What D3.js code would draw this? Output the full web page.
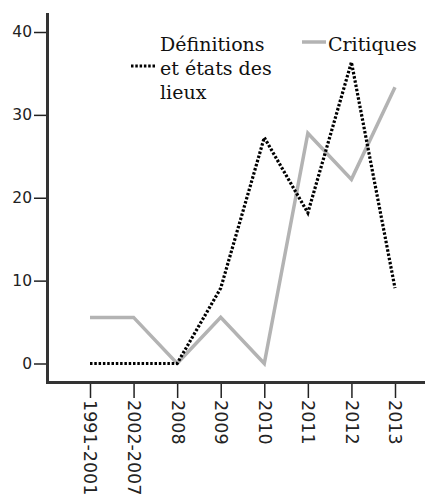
<!DOCTYPE html>
<html><head><meta charset="utf-8">
<script src="https://cdn.jsdelivr.net/npm/d3@7"></script>
<style>body{margin:0;background:#fff}</style>
</head><body>
<svg id="c" width="425" height="499"></svg>
<script>
const categories = ["1991-2001","2002-2007","2008","2009","2010","2011","2012","2013"];
const definitions = [0,0,0,9.09,27.27,18.18,36.36,9.09];
const critiques = [5.56,5.56,0,5.56,0,27.78,22.22,33.33];
const yTicks = [0,10,20,30,40];

const svg = d3.select("#c");
const x = d3.scalePoint().domain(categories).range([90,395]);
const y = d3.scaleLinear().domain([0,40]).range([363.5,32]);

// axes
const yAxis = svg.append("g").attr("transform","translate(47,0)")
  .call(d3.axisLeft(y).tickValues(yTicks).tickSize(13).tickSizeOuter(0).tickPadding(2));
yAxis.select(".domain").remove();
yAxis.selectAll(".tick line").attr("stroke","#222").attr("stroke-width",1.5);
yAxis.selectAll(".tick text").attr("font-family","DejaVu Sans, sans-serif").attr("font-size",15.5).attr("fill","#222");
svg.append("line").attr("x1",47.5).attr("x2",47.5).attr("y1",13).attr("y2",384)
  .attr("stroke","#333").attr("stroke-width",3);

const xAxis = svg.append("g").attr("transform","translate(0,382)")
  .call(d3.axisBottom(x).tickSize(16).tickSizeOuter(0));
xAxis.select(".domain").remove();
xAxis.selectAll(".tick line").attr("stroke","#222").attr("stroke-width",1.5).attr("y1",2);
xAxis.selectAll(".tick text")
  .attr("font-family","DejaVu Sans, sans-serif").attr("font-size",17.5).attr("fill","#222")
  .attr("transform","rotate(90)").attr("x",18).attr("y",0).attr("dy","0.35em")
  .attr("text-anchor","start");
svg.append("line").attr("x1",46).attr("x2",425).attr("y1",382.5).attr("y2",382.5)
  .attr("stroke","#333").attr("stroke-width",3);

const line = d3.line().x((d,i)=>x(categories[i])).y(d=>y(d));
svg.append("path").datum(critiques).attr("d",line).attr("fill","none")
  .attr("stroke","#b3b3b3").attr("stroke-width",3.5);
svg.append("path").datum(definitions).attr("d",line).attr("fill","none")
  .attr("stroke","#000").attr("stroke-width",3.2).attr("stroke-dasharray","2.5,1.8");

// legend
const lg = svg.append("g").attr("fill","#111");
const lines = ["Définitions","et états des","lieux"];
lg.selectAll("text.d").data(lines).join("text")
  .style("font-family","'DejaVu Serif', serif").style("font-size","19px")
  .attr("x",160).attr("y",(d,i)=>51+i*24).text(d=>d);
lg.append("line").attr("x1",131).attr("x2",156).attr("y1",66).attr("y2",66)
  .attr("stroke","#000").attr("stroke-width",3.2).attr("stroke-dasharray","2.5,1.8");
lg.append("line").attr("x1",302).attr("x2",326).attr("y1",42).attr("y2",42)
  .attr("stroke","#b3b3b3").attr("stroke-width",3.5);
lg.append("text").style("font-family","'DejaVu Serif', serif").style("font-size","19px")
  .attr("x",328).attr("y",51).text("Critiques");
</script>
</body></html>
